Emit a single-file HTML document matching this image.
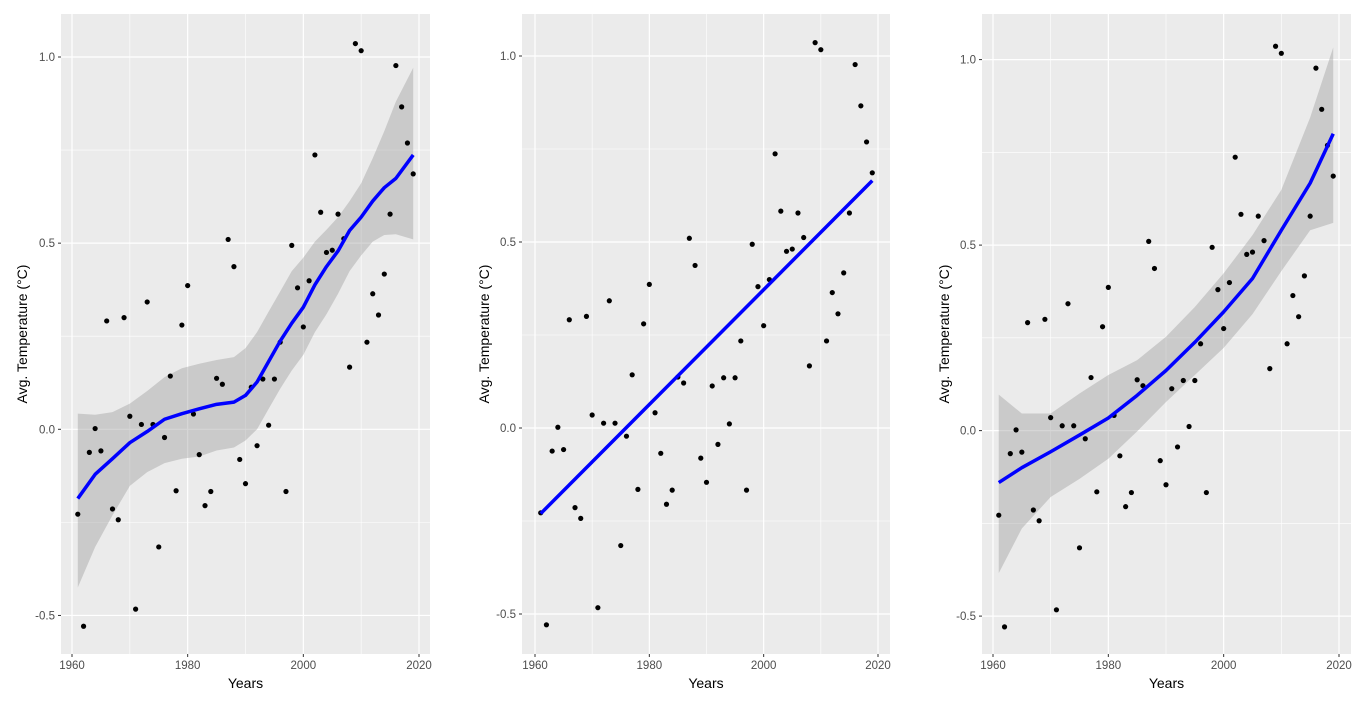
<!DOCTYPE html>
<html><head><meta charset="utf-8"><style>
html,body{margin:0;padding:0;background:#fff;}
svg{display:block;font-family:"Liberation Sans",sans-serif;}
</style></head><body>
<svg id="chart" width="1366" height="705" viewBox="0 0 1366 705" xmlns="http://www.w3.org/2000/svg"></svg>
<script>
const years = [];
for (let y = 1961; y <= 2019; y++) years.push(y);
const temps = [-0.228,-0.529,-0.062,0.002,-0.058,0.291,-0.214,-0.243,0.300,0.035,-0.483,0.013,0.342,0.013,-0.316,-0.022,0.143,-0.165,0.280,0.386,0.041,-0.068,-0.205,-0.167,0.137,0.121,0.510,0.437,-0.081,-0.146,0.113,-0.044,0.135,0.011,0.135,0.234,-0.167,0.494,0.380,0.275,0.399,0.737,0.583,0.475,0.481,0.578,0.512,0.167,1.036,1.017,0.234,0.364,0.307,0.417,0.578,0.977,0.866,0.769,0.686];
const xTicks = [1960,1980,2000,2020];
const yTicks = [-0.5,0.0,0.5,1.0];
const yTickLabels = ["-0.5","0.0","0.5","1.0"];
const loessYears = [1961,1964,1967,1970,1973,1976,1979,1982,1985,1988,1990,1992,1994,1996,1998,2000,2002,2004,2006,2008,2010,2012,2014,2016,2019];
const loessFit = [-0.186,-0.121,-0.079,-0.036,-0.006,0.027,0.042,0.055,0.067,0.073,0.091,0.127,0.182,0.237,0.285,0.328,0.388,0.437,0.479,0.534,0.570,0.613,0.649,0.674,0.737];
const loessUpper = [0.042,0.039,0.046,0.069,0.103,0.140,0.164,0.176,0.186,0.194,0.218,0.261,0.316,0.370,0.425,0.461,0.504,0.536,0.570,0.613,0.661,0.728,0.801,0.880,0.971];
const loessLower = [-0.425,-0.316,-0.231,-0.152,-0.115,-0.091,-0.079,-0.073,-0.057,-0.049,-0.030,0.000,0.055,0.109,0.158,0.200,0.261,0.309,0.364,0.425,0.467,0.504,0.522,0.524,0.510];
const linYears = [1961,2019];
const linFit = [-0.230,0.665];
const polyYears = [1961,1965,1970,1975,1980,1985,1990,1995,2000,2005,2010,2015,2019];
const polyFit = [-0.140,-0.100,-0.057,-0.012,0.034,0.095,0.162,0.238,0.320,0.410,0.540,0.667,0.800];
const polyUpper = [0.097,0.046,0.046,0.100,0.150,0.190,0.253,0.333,0.424,0.527,0.649,0.844,1.033];
const polyLower = [-0.384,-0.264,-0.179,-0.130,-0.076,-0.002,0.077,0.150,0.223,0.314,0.430,0.540,0.560];

const NS = "http://www.w3.org/2000/svg";
const svg = document.getElementById('chart');
function mk(tag, attrs, parent) {
  const e = document.createElementNS(NS, tag);
  for (const k in attrs) e.setAttribute(k, attrs[k]);
  (parent || svg).appendChild(e);
  return e;
}
const panels = [
  {name:'loess', left:61, right:430, x0:72, x1:419, y1:57, y0:429.3, titleX:22, fit:[loessYears,loessFit], band:[loessUpper,loessLower]},
  {name:'linear', left:522, right:890, x0:535, x1:878, y1:56, y0:428, titleX:484, fit:[linYears,linFit], band:null},
  {name:'poly', left:982, right:1351, x0:993, x1:1339, y1:59.6, y0:430.6, titleX:944, fit:[polyYears,polyFit], band:[polyUpper,polyLower]}
];
const plotTop = 14, plotBottom = 654;
panels.forEach(p => {
  const sx = v => p.x0 + (v - 1960) * (p.x1 - p.x0) / 60;
  const sy = v => p.y0 - v * (p.y0 - p.y1);
  const g = mk('g', {});
  
  
  const bg = mk('rect', {x:p.left, y:plotTop, width:p.right-p.left, height:plotBottom-plotTop, fill:'#EBEBEB'}, g);
  
  
  for (let i = 0; i < xTicks.length - 1; i++) {
    const x = sx((xTicks[i] + xTicks[i+1]) / 2);
    mk('line', {x1:x, x2:x, y1:plotTop, y2:plotBottom, stroke:'#fff', 'stroke-width':0.6}, g);
  }
  for (let i = 0; i < yTicks.length - 1; i++) {
    const y = sy((yTicks[i] + yTicks[i+1]) / 2);
    mk('line', {x1:p.left, x2:p.right, y1:y, y2:y, stroke:'#fff', 'stroke-width':0.6}, g);
  }
  xTicks.forEach(t => {
    const x = sx(t);
    mk('line', {x1:x, x2:x, y1:plotTop, y2:plotBottom, stroke:'#fff', 'stroke-width':1.2}, g);
    mk('line', {x1:x, x2:x, y1:plotBottom, y2:plotBottom+3, stroke:'#333', 'stroke-width':1}, g);
    const tx = mk('text', {x:x, y:plotBottom+15, 'text-anchor':'middle', 'font-size':11.5, fill:'#4D4D4D'}, g);
    tx.textContent = t;
    
    
  });
  yTicks.forEach((t, i) => {
    const y = sy(t);
    mk('line', {x1:p.left, x2:p.right, y1:y, y2:y, stroke:'#fff', 'stroke-width':1.2}, g);
    mk('line', {x1:p.left-3, x2:p.left, y1:y, y2:y, stroke:'#333', 'stroke-width':1}, g);
    const tx = mk('text', {x:p.left-6, y:y+4, 'text-anchor':'end', 'font-size':11.5, fill:'#4D4D4D'}, g);
    tx.textContent = yTickLabels[i];
    
    
  });
  if (p.band) {
    const ys = p.fit[0];
    let d = '';
    ys.forEach((yr, i) => { d += (i ? 'L' : 'M') + sx(yr) + ',' + sy(p.band[0][i]); });
    for (let i = ys.length - 1; i >= 0; i--) d += 'L' + sx(ys[i]) + ',' + sy(p.band[1][i]);
    const band = mk('path', {d:d + 'Z', fill:'#999', 'fill-opacity':0.4}, g);
    
    
  }
  years.forEach((yr, i) => {
    const c = mk('circle', {cx:sx(yr), cy:sy(temps[i]), r:2.6, fill:'#000'}, g);
    
    
  });
  const pts = p.fit[0].map((yr, i) => sx(yr) + ',' + sy(p.fit[1][i])).join(' ');
  const line = mk('polyline', {points:pts, fill:'none', stroke:'#0000FF', 'stroke-width':3.5, 'stroke-linejoin':'round'}, g);
  
  
  const xt = mk('text', {x:(p.left+p.right)/2, y:688, 'text-anchor':'middle', 'font-size':14, fill:'#000'}, g);
  xt.textContent = 'Years';
  
  
  const yt = mk('text', {x:0, y:0, 'text-anchor':'middle', 'font-size':14, fill:'#000', transform:'translate(' + (p.titleX+5) + ',' + ((plotTop+plotBottom)/2) + ') rotate(-90)'}, g);
  yt.textContent = 'Avg. Temperature (°C)';
  
  
});
</script>
</body></html>
